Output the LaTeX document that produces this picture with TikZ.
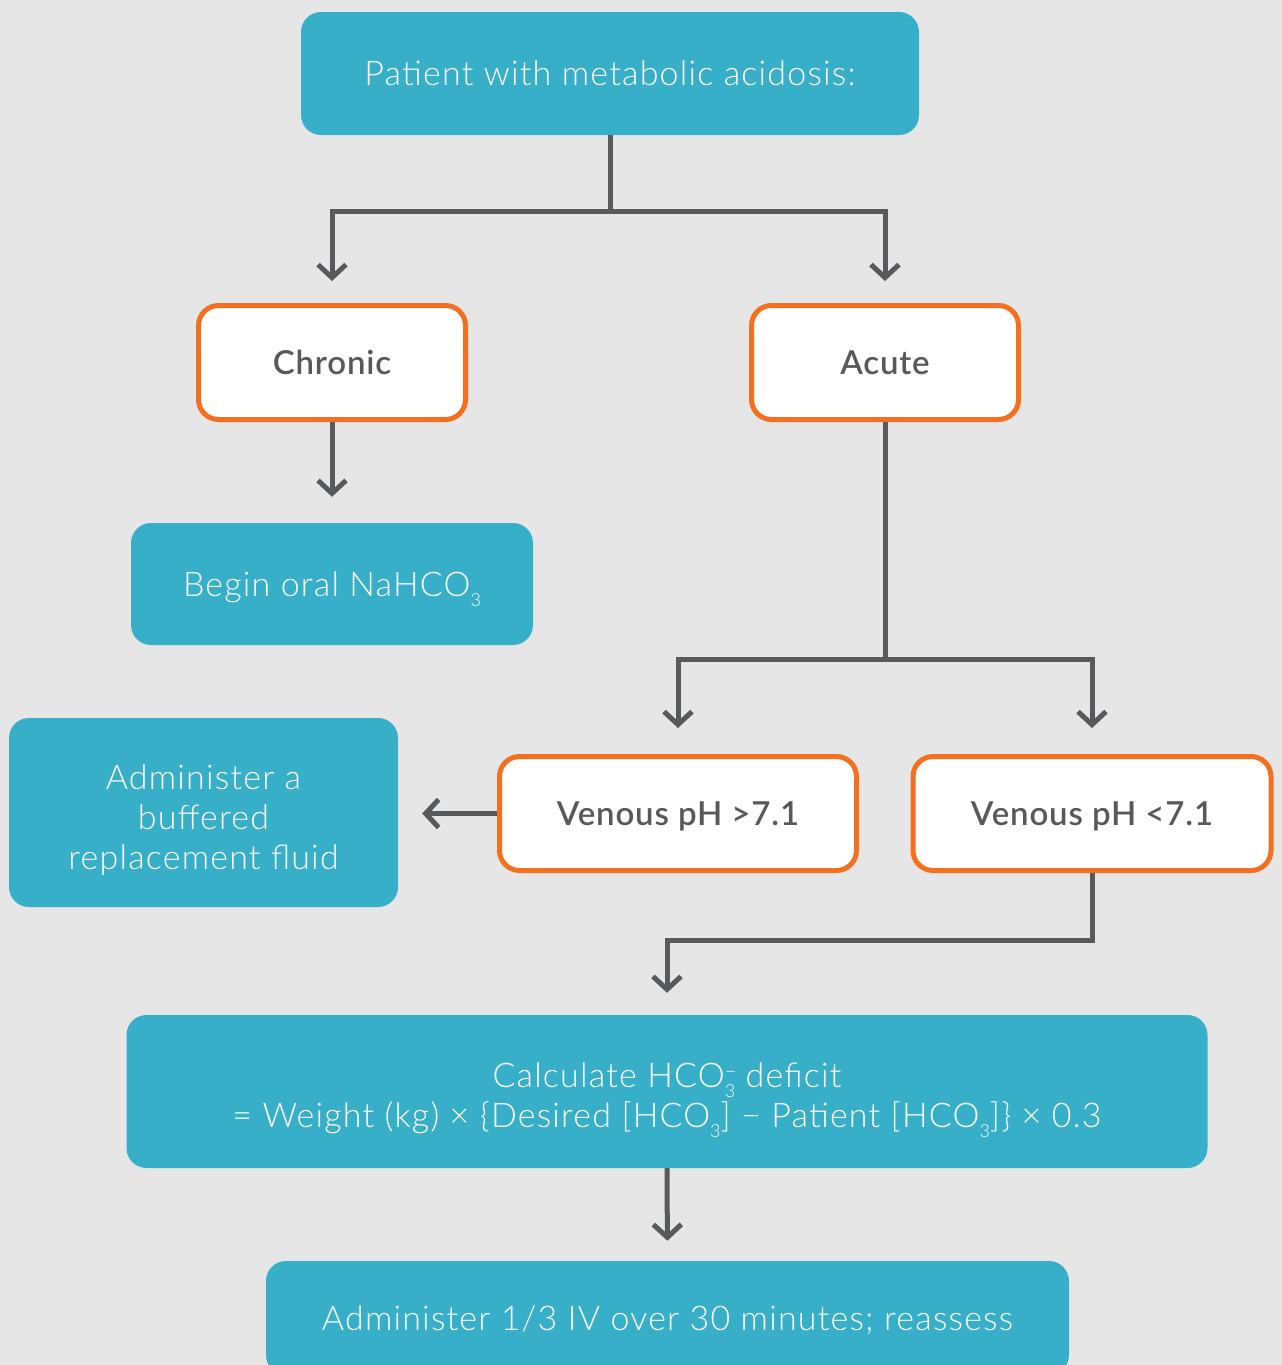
\documentclass[tikz,border=0pt]{standalone}
\usepackage{fontspec}
\setmainfont{Lato}[UprightFont={* Light},BoldFont={* Semibold},
  UprightFeatures={LetterSpace=3.5},BoldFeatures={LetterSpace=2.5}]
\usetikzlibrary{arrows.meta}
\definecolor{bgc}{HTML}{E6E6E6}
\definecolor{teal}{HTML}{38AFC9}
\definecolor{orng}{HTML}{F37021}
\definecolor{ink}{HTML}{58595B}
% chemical subscripts
\newcommand{\lowthree}{\raisebox{-10pt}{\fontsize{18}{18}\selectfont 3}}
\newcommand{\ionthree}{\rlap{\raisebox{9pt}{\fontsize{20}{20}\selectfont −}}\lowthree}
\begin{document}
\begin{tikzpicture}[x=1pt,y=-1pt,
  tealbox/.style={fill=teal,rounded corners=20pt,text=white,align=center,
    inner sep=0pt,text depth=0pt,font=\fontsize{34}{40}\selectfont},
  orbox/.style={draw=orng,line width=5pt,fill=white,rounded corners=20pt,
    text=ink,align=center,inner sep=0pt,minimum width=267pt,minimum height=114pt,
    text height=24pt,text depth=0pt,font=\fontsize{33}{40}\selectfont\bfseries},
  oneline/.style={text height=24pt},
  conn/.style={draw=ink,line width=5pt,line join=miter,
    -{Straight Barb[length=13pt,width=28pt,line width=5pt]}}]
\useasboundingbox[fill=bgc] (0,0) rectangle (1282,1365);

\node[tealbox,oneline,minimum width=618pt,minimum height=123pt] (top) at (610,73.5)
  {Patient with metabolic acidosis:};
\node[orbox] (chronic) at (332,362.5) {Chronic};
\node[orbox] (acute) at (885,362.5) {Acute};
\node[tealbox,oneline,minimum width=402pt,minimum height=122pt] (oral) at (332,584)
  {Begin oral NaHCO\lowthree};
\node[tealbox,text height=113pt,minimum width=389pt,minimum height=189pt] (buffer)
  at (203.5,812.5) {Administer a\\buffered\\replacement fluid};
\node[orbox,minimum width=357pt] (high) at (678,813.5) {Venous pH >7.1};
\node[orbox,minimum width=358pt] (low) at (1092,813.5) {Venous pH <7.1};
\node[tealbox,text height=71pt,minimum width=1081pt,minimum height=153pt] (calc)
  at (667,1091.5)
  {Calculate HCO\ionthree\ deficit\\
   = Weight (kg) × \{Desired [HCO\lowthree] − Patient [HCO\lowthree]\} × 0.3};
\node[tealbox,oneline,minimum width=803pt,minimum height=114pt] (dose) at (667.5,1318)
  {Administer 1/3 IV over 30 minutes; reassess};

% junction points of the branching connectors
\coordinate (split1) at (610,211);
\coordinate (split2) at (885,659);
\coordinate (split3) at (1092,940);

\draw[conn,shorten >=22pt] (top.south) -- (split1) -| (chronic.north);
\draw[conn,shorten >=22pt] (split1) -| (acute.north);
\draw[conn,shorten >=26pt] (chronic.south) -- (oral.north);
\draw[conn,shorten >=26pt] (acute.south) -- (split2) -| (high.north);
\draw[conn,shorten >=26pt] (split2) -| (low.north);
\draw[conn,shorten >=24pt] (high.west) -- (high.west -| buffer.east);
\draw[conn,shorten >=22pt] (low.south) -- (split3) -| (calc.north);
\draw[conn,shorten >=20pt] (calc.south) -- (dose.north);
\end{tikzpicture}
\end{document}
